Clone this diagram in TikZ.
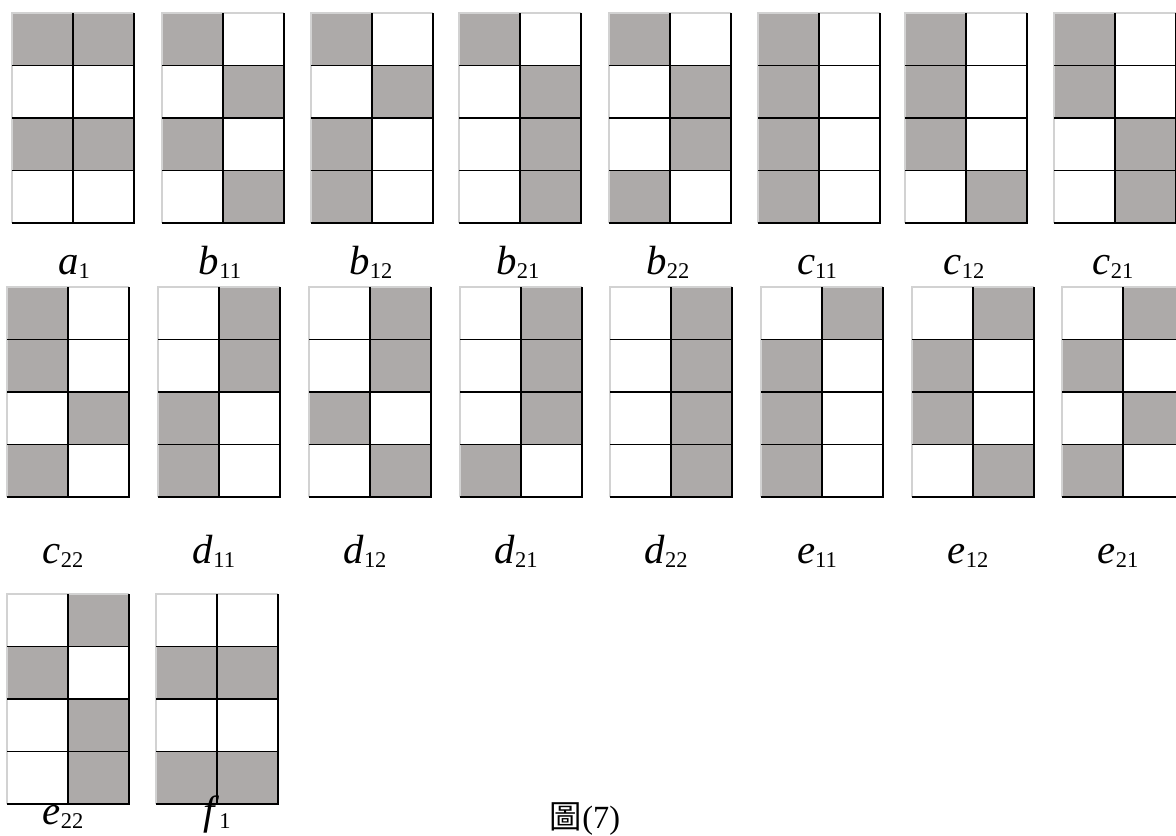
\documentclass[tikz,border=0pt]{standalone}
\usepackage{fontspec}
\setmainfont{Liberation Serif}
\newfontfamily\cjk{Noto Sans CJK TC}
\usetikzlibrary{positioning}

\definecolor{cellgray}{RGB}{173,170,169}
\definecolor{edgegray}{RGB}{210,210,210}

% #1,#2 top left corner, #3 gray cells as col/row
\newcommand{\board}[3]{%
  \foreach \cx/\cy in {#3}
    \fill[cellgray] (#1+\cx*61,#2+\cy*52.5) rectangle ++(61,52.5);
  \draw[shadeline] (#1,#2+210) -- (#1,#2) -- (#1+122,#2);
  \draw[gridline] (#1+122,#2) -- (#1+122,#2+210) -- (#1,#2+210);
  \draw[gridline] (#1+61,#2) -- ++(0,210);
  \foreach \hy in {52.5,105,157.5}
    \draw[gridline] (#1,#2+\hy) -- ++(122,0);
}
\newcommand{\lab}[2]{\textit{#1}\raisebox{-3.5pt}{\fontsize{16}{16}\selectfont #2}}

\begin{document}
\begin{tikzpicture}[x=0.025cm,y=-0.025cm,
  gridline/.style={black,line width=1.4pt},
  shadeline/.style={edgegray,line width=1.4pt},
  lab/.style={anchor=base,inner sep=0pt,font=\fontsize{29}{29}\selectfont}]
\path[use as bounding box] (0,0) rectangle (1176,835);

\board{12}{13}{0/0,1/0,0/2,1/2}
\board{162}{13}{0/0,1/1,0/2,1/3}
\board{311}{13}{0/0,1/1,0/2,0/3}
\board{459}{13}{0/0,1/1,1/2,1/3}
\board{609}{13}{0/0,1/1,1/2,0/3}
\board{758}{13}{0/0,0/1,0/2,0/3}
\board{905}{13}{0/0,0/1,0/2,1/3}
\board{1054}{13}{0/0,0/1,1/2,1/3}

\board{7}{287}{0/0,0/1,1/2,0/3}
\board{158}{287}{1/0,1/1,0/2,0/3}
\board{309}{287}{1/0,1/1,0/2,1/3}
\board{460}{287}{1/0,1/1,1/2,0/3}
\board{610}{287}{1/0,1/1,1/2,1/3}
\board{761}{287}{1/0,0/1,0/2,0/3}
\board{912}{287}{1/0,0/1,0/2,1/3}
\board{1062}{287}{1/0,0/1,1/2,0/3}

\board{7}{594}{1/0,0/1,1/2,1/3}
\board{156}{594}{0/1,1/1,0/3,1/3}

\node[lab] (la1) at (74,274) {\lab{a}{1}};
\node[lab] (lb11) at (220,274) {\lab{b}{11}};
\node[lab] (lb12) at (371,274) {\lab{b}{12}};
\node[lab] (lb21) at (518,274) {\lab{b}{21}};
\node[lab] (lb22) at (668,274) {\lab{b}{22}};
\node[lab] (lc11) at (817,274) {\lab{c}{11}};
\node[lab] (lc12) at (964,274) {\lab{c}{12}};
\node[lab] (lc21) at (1113,274) {\lab{c}{21}};

\node[lab] (lc22) at (63,563) {\lab{c}{22}};
\node[lab] (ld11) at (214,563) {\lab{d}{11}};
\node[lab] (ld12) at (365,563) {\lab{d}{12}};
\node[lab] (ld21) at (516,563) {\lab{d}{21}};
\node[lab] (ld22) at (666,563) {\lab{d}{22}};
\node[lab] (le11) at (817,563) {\lab{e}{11}};
\node[lab] (le12) at (968,563) {\lab{e}{12}};
\node[lab] (le21) at (1118,563) {\lab{e}{21}};

\node[lab] (le22) at (63,824) {\lab{e}{22}};
\node[lab] (lf1) at (217,824) {\lab{f}{1}};

\node[lab,font=\fontsize{23}{23}\selectfont] (cap) at (585,828) {{\cjk 圖}(7)};
\end{tikzpicture}
\end{document}
